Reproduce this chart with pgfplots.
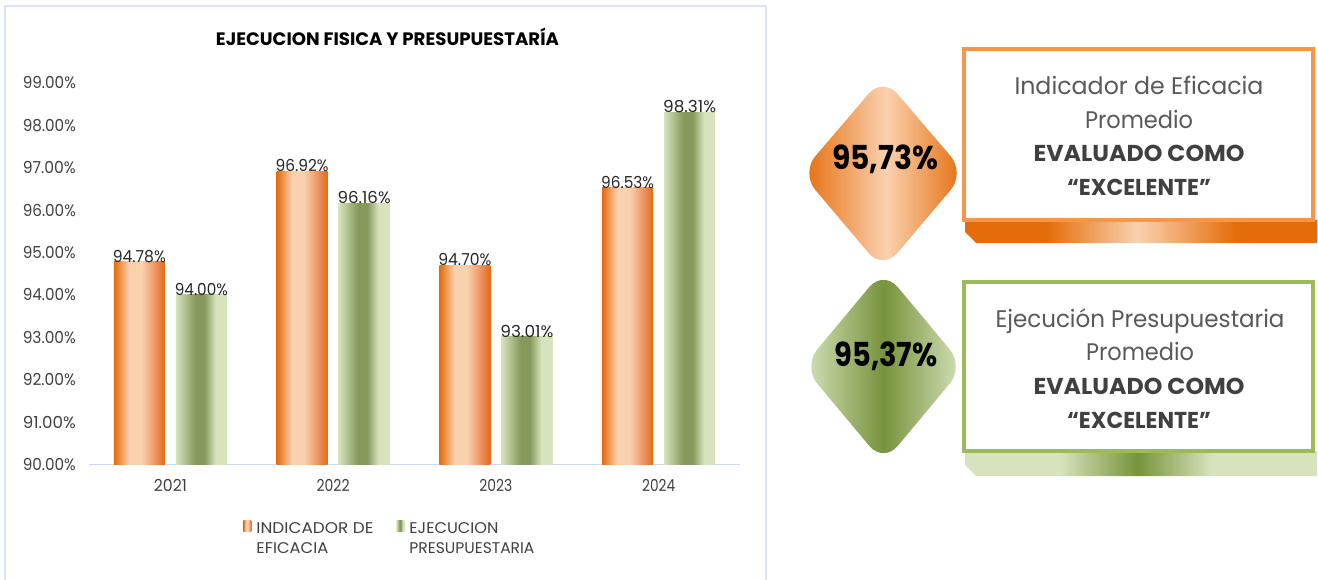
\documentclass[border=0pt]{standalone}
\usepackage{fontspec}
\setmainfont{Poppins}
\usepackage{graphicx}
\usepackage{pgfplots}
\pgfplotsset{compat=1.18}

\definecolor{orDark}{HTML}{E46C0A}
\definecolor{orLight}{HTML}{FAD1AF}
\definecolor{orMid}{HTML}{E97E42}
\definecolor{orBorder}{HTML}{F79646}
\definecolor{grLight}{HTML}{D6E3BC}
\definecolor{grDark}{HTML}{86995D}
\definecolor{grDeep}{HTML}{77933C}
\definecolor{grBorder}{HTML}{9BBB59}
\definecolor{chartborder}{HTML}{D9E3F1}
\definecolor{axisblue}{HTML}{C9DAF0}
\definecolor{tickc}{HTML}{404040}
\definecolor{labc}{HTML}{262626}
\definecolor{boxgray}{HTML}{595959}
\definecolor{boxdark}{HTML}{404040}

\pgfdeclarehorizontalshading{orbar}{100bp}{color(0bp)=(orDark); color(25bp)=(orDark); color(40bp)=(orLight); color(52bp)=(orLight); color(70bp)=(orMid); color(75bp)=(orDark); color(100bp)=(orDark)}
\pgfdeclarehorizontalshading{grbar}{100bp}{color(0bp)=(grLight); color(25bp)=(grLight); color(44bp)=(grDark); color(53bp)=(grDark); color(64bp)=(grLight); color(75bp)=(grLight); color(100bp)=(grLight)}
\pgfdeclarehorizontalshading{ordiam}{100bp}{color(0bp)=(orDark); color(25bp)=(orDark); color(51bp)=(orLight); color(75bp)=(orDark); color(100bp)=(orDark)}
\pgfdeclarehorizontalshading{grdiam}{100bp}{color(0bp)=(grLight); color(25bp)=(grLight); color(50bp)=(grDeep); color(75bp)=(grLight); color(100bp)=(grLight)}
\pgfdeclarehorizontalshading{orshadow}{100bp}{color(0bp)=(orDark); color(25bp)=(orDark); color(36.5bp)=(orDark); color(49.5bp)=(orLight); color(63.5bp)=(orDark); color(75bp)=(orDark); color(100bp)=(orDark)}
\pgfdeclarehorizontalshading{grshadow}{100bp}{color(0bp)=(grLight); color(25bp)=(grLight); color(38.5bp)=(grLight); color(49.5bp)=(grDeep); color(60bp)=(grLight); color(75bp)=(grLight); color(100bp)=(grLight)}

\newcommand\fitx[2]{\resizebox{#1}{\height}{#2}}

\pgfplotsset{
  orbarstyle/.style={draw=none, shade, shading=orbar, bar shift=-31pt,
    legend image code/.code={\path (0pt,0pt) -- (11pt,0pt);\shade[shading=orbar] (0pt,-11pt) rectangle (8pt,0pt);}},
  grbarstyle/.style={draw=none, shade, shading=grbar, bar shift=31pt,
    legend image code/.code={\path (0pt,0pt) -- (11pt,0pt);\shade[shading=grbar] (0pt,-11pt) rectangle (8pt,0pt);}},
}

\begin{document}
\begin{tikzpicture}
\path[use as bounding box] (0pt,0pt) rectangle (1318pt,579pt);
\draw[chartborder, line width=2pt] (5pt,-10pt) rectangle (766pt,573pt);

\node[anchor=base, text=black] at (387.5pt,533.5pt) {\fitx{343pt}{\fontsize{18}{21}\selectfont\bfseries EJECUCION FISICA Y PRESUPUESTARÍA}};

\begin{axis}[
  at={(89pt,114.5pt)}, anchor=south west,
  scale only axis, width=651pt, height=381.5pt,
  xmin=-0.5, xmax=3.5, ymin=90, ymax=99,
  xtick={0,1,2,3},
  xticklabels={\fitx{33pt}{2021},\fitx{33pt}{2022},\fitx{33pt}{2023},\fitx{33pt}{2024}},
  ytick={90,91,...,99},
  yticklabel={\fitx{53pt}{\pgfmathprintnumber[fixed,fixed zerofill,precision=2]{\tick}\%}},
  /pgf/number format/assume math mode=true,
  axis x line*=bottom, axis y line*=left,
  x axis line style={draw=axisblue, line width=1.8pt},
  y axis line style={draw=none},
  major tick length=0pt, tick style={draw=none},
  tick label style={font=\fontsize{16.5}{20}\selectfont, text=tickc},
  yticklabel style={anchor=east, inner sep=0pt, xshift=-13pt},
  xticklabel style={anchor=north, inner sep=0pt, yshift=-14.5pt},
  ybar, bar width=51pt,
  nodes near coords={\fitx{53pt}{\pgfmathprintnumber[fixed,fixed zerofill,precision=2]{\pgfplotspointmeta}\%}},
  nodes near coords style={anchor=south, inner sep=0pt, yshift=-1pt, font=\fontsize{16.5}{20}\selectfont, text=labc},
  legend columns=2,
  legend style={draw=none, fill=none, at={(0.2323,-0.1402)}, anchor=north west,
    font=\fontsize{15.5}{20}\selectfont, text=tickc,
    cells={align=left, anchor=north west},
    /tikz/every even column/.append style={column sep=21pt}},
]
% INDICADOR DE EFICACIA (one bar per plot so each bar gets its own shading)
\addplot[orbarstyle] coordinates {(0,94.78)};
\addlegendentry{\fitx{117pt}{INDICADOR DE}\\\fitx{72pt}{EFICACIA}}
\addplot[orbarstyle, forget plot] coordinates {(1,96.92)};
\addplot[orbarstyle, forget plot] coordinates {(2,94.70)};
\addplot[orbarstyle, forget plot] coordinates {(3,96.53)};
% EJECUCION PRESUPUESTARIA
\addplot[grbarstyle] coordinates {(0,94.00)};
\addlegendentry{\fitx{89pt}{EJECUCION}\\\fitx{125pt}{PRESUPUESTARIA}}
\addplot[grbarstyle, forget plot] coordinates {(1,96.16)};
\addplot[grbarstyle, forget plot] coordinates {(2,93.01)};
\addplot[grbarstyle, forget plot] coordinates {(3,98.31)};
\end{axis}

\begin{scope}[x=1pt,y=1pt]
% right panel: shadows
\shade[shading=orshadow] (965,359) -- (1317,359) -- (1317,336) -- (976,336) -- (965,347) -- cycle;
\shade[shading=grshadow] (965,128) -- (1317,128) -- (1317,103) -- (976,103) -- (965,114) -- cycle;
% boxes
\draw[orBorder, line width=3.5pt, fill=white] (964,530) rectangle (1313,359);
\draw[grBorder, line width=3.5pt, fill=white] (964,297) rectangle (1313,128);
% diamonds
\shade[shading=ordiam, rounded corners=22pt] (801,406) -- (883,502) -- (965,406) -- (883,309) -- cycle;
\shade[shading=grdiam, rounded corners=22pt] (803,212.5) -- (883.5,309) -- (964,212.5) -- (883.5,116) -- cycle;
\node[anchor=base, text=black] at (885,409) {\fitx{106pt}{\fontsize{33}{36}\selectfont\bfseries 95,73\%}};
\node[anchor=base, text=black] at (886,212) {\fitx{103pt}{\fontsize{33}{36}\selectfont\bfseries 95,37\%}};
% box texts
\node[anchor=base, text=boxgray] at (1139,484) {\fitx{249pt}{\fontsize{24}{28}\selectfont Indicador de Eficacia}};
\node[anchor=base, text=boxgray] at (1139,450) {\fitx{108pt}{\fontsize{24}{28}\selectfont Promedio}};
\node[anchor=base, text=boxdark] at (1139,417) {\fitx{211pt}{\fontsize{23}{28}\selectfont\bfseries EVALUADO COMO}};
\node[anchor=base, text=boxdark] at (1139,383) {\fitx{144pt}{\fontsize{23}{28}\selectfont\bfseries “EXCELENTE”}};
\node[anchor=base, text=boxgray] at (1140,251) {\fitx{289pt}{\fontsize{24}{28}\selectfont Ejecución Presupuestaria}};
\node[anchor=base, text=boxgray] at (1140,218) {\fitx{108pt}{\fontsize{24}{28}\selectfont Promedio}};
\node[anchor=base, text=boxdark] at (1139,185) {\fitx{211pt}{\fontsize{23}{28}\selectfont\bfseries EVALUADO COMO}};
\node[anchor=base, text=boxdark] at (1139,151) {\fitx{144pt}{\fontsize{23}{28}\selectfont\bfseries “EXCELENTE”}};
\end{scope}
\end{tikzpicture}
\end{document}
